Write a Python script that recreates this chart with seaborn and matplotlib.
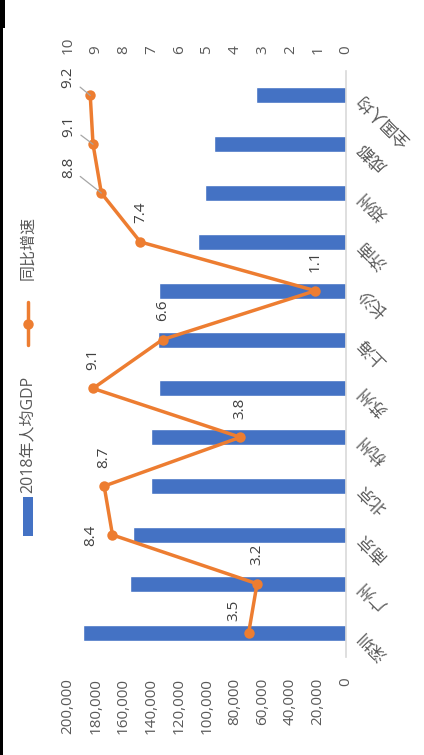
import numpy as np
import pandas as pd
import matplotlib
matplotlib.use("Agg")
import matplotlib.pyplot as plt
import seaborn as sns
from matplotlib.patches import Rectangle
from matplotlib.lines import Line2D
from matplotlib.ticker import FuncFormatter

# ---------------- data ----------------
categories = ["深圳", "广州", "南京", "北京", "杭州", "苏州", "上海", "长沙", "济南", "郑州", "成都", "全国人均"]
gdp_per_capita = [189568, 155491, 152886, 140211, 140180, 134300, 134982, 134500, 106302, 101349, 94782, 64644]
growth = [3.5, 3.2, 8.4, 8.7, 3.8, 9.1, 6.6, 1.1, 7.4, 8.8, 9.1, 9.2]
bar_label = "2018年人均GDP"
line_label = "同比增速"
gdp_ticks = list(range(0, 200001, 20000))
growth_ticks = list(range(0, 11))

# ---------------- style / layout ----------------
W, H = 424, 755
BLUE = "#4472C4"
ORANGE = "#ED7D31"
TXT = "#595959"
LBL = "#404040"
FS = 11
# label offsets in pixels (dx, dy) with y up, and whether to draw a leader line
label_offsets = [(-15, 22), (0, 29), (-22, 0), (0, 29), (0, 29), (0, 29),
                 (0, 29), (0, 30), (0, 30), (-33, 26), (-24, 18), (-22, 18)]
leaders = [False] * 9 + [True, True, True]

sns.set_style("white")
plt.rcParams["font.family"] = ["Open Sans", "Noto Sans CJK SC", "DejaVu Sans"]

df = pd.DataFrame({"city": categories, "gdp": gdp_per_capita, "growth": growth})
df["pos"] = np.arange(len(df))

fig = plt.figure(figsize=(W / 100, H / 100), dpi=100)
fig.patch.set_facecolor("white")
left, right, top, bottom = 68, 346, 71, 657
ax = fig.add_axes([left / W, 1 - bottom / H, (right - left) / W, (bottom - top) / H])

sns.barplot(data=df, x="gdp", y="city", order=categories, orient="h", color=BLUE,
            saturation=1, width=0.33, ax=ax)
ax.set_xlim(200000, 0)
ax.set_ylim(-0.5, len(categories) - 0.5)
ax.set_xlabel("")
ax.set_ylabel("")

# bottom axis (GDP)
ax.set_xticks(gdp_ticks)
ax.xaxis.set_major_formatter(FuncFormatter(lambda v, p: f"{int(v):,}"))
ax.tick_params(axis="x", length=0, pad=15, labelsize=FS, labelcolor=TXT, labelrotation=90)

# category axis on the right
ax.yaxis.tick_right()
ax.tick_params(axis="y", length=0, pad=11, labelsize=12, labelcolor=TXT)
for t in ax.get_yticklabels():
    t.set_rotation(135)
    t.set_rotation_mode("anchor")
    t.set_ha("right")
    t.set_va("center")

for s in ["left", "top", "bottom"]:
    ax.spines[s].set_visible(False)
ax.spines["right"].set_color("#D9D9D9")
ax.spines["right"].set_linewidth(1.2)
ax.grid(False)

# secondary axis (growth)
ax2 = ax.twiny()
sns.lineplot(data=df, x="growth", y="pos", sort=False, estimator=None, ax=ax2,
             color=ORANGE, linewidth=2.5, marker="o", markersize=7.5,
             markeredgewidth=0, markerfacecolor=ORANGE)
ax2.set_xlim(10, 0)
ax2.set_ylim(-0.5, len(categories) - 0.5)
ax2.set_xlabel("")
ax2.set_ylabel("")
ax2.set_xticks(growth_ticks)
ax2.tick_params(axis="x", length=0, pad=12, labelsize=FS, labelcolor=TXT, labelrotation=90)
for s in ax2.spines.values():
    s.set_visible(False)
ax2.grid(False)

for i, (g, (dx, dy), ld) in enumerate(zip(growth, label_offsets, leaders)):
    kw = {}
    if ld:
        kw["arrowprops"] = dict(arrowstyle="-", color="#A6A6A6", lw=0.9, shrinkA=1, shrinkB=0)
    ax2.annotate(f"{g}", xy=(g, i), xytext=(dx * 0.72, dy * 0.72), textcoords="offset points",
                 rotation=90, ha="center", va="center", fontsize=FS, color=LBL, **kw)

# legend (rotated, drawn manually)
fig.add_artist(Rectangle((23 / W, 1 - 536 / H), 10 / W, 39 / H, transform=fig.transFigure,
                         facecolor=BLUE, edgecolor="none"))
fig.text(28 / W, 1 - 434 / H, bar_label, rotation=90, ha="center", va="center",
         fontsize=11.5, color=TXT)
fig.add_artist(Line2D([28 / W, 28 / W], [1 - 345 / H, 1 - 302 / H], transform=fig.transFigure,
                      color=ORANGE, lw=2.5))
fig.add_artist(Line2D([28 / W], [1 - 324 / H], transform=fig.transFigure, color=ORANGE,
                      marker="o", markersize=7.5, markeredgewidth=0))
fig.text(28 / W, 1 - 248 / H, line_label, rotation=90, ha="center", va="center",
         fontsize=11.5, color=TXT)

# border remnants
fig.add_artist(Rectangle((0, 0), 3 / W, 1, transform=fig.transFigure, facecolor="black",
                         edgecolor="none"))
fig.add_artist(Rectangle((0, 1 - 28 / H), 4.5 / W, 28 / H, transform=fig.transFigure,
                         facecolor="black", edgecolor="none"))

fig.savefig("out.png", dpi=100)
